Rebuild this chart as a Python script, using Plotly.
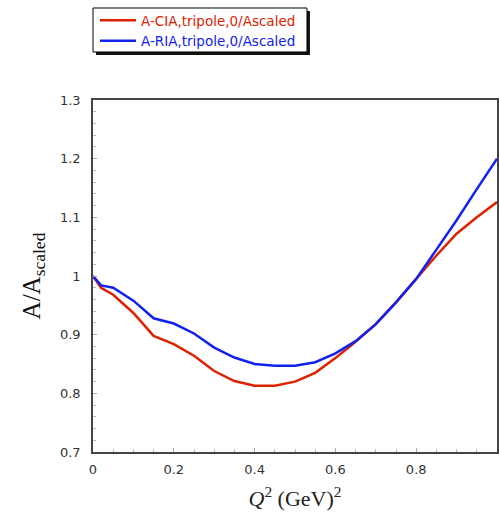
import plotly.graph_objects as go

q2 = [0.0, 0.02, 0.05, 0.1, 0.15, 0.2, 0.25, 0.3, 0.35, 0.4, 0.45, 0.5, 0.55,
      0.6, 0.65, 0.7, 0.75, 0.8, 0.85, 0.9, 0.95, 1.0]
cia = [1.0, 0.98, 0.968, 0.937, 0.898, 0.884, 0.864, 0.838, 0.821, 0.813, 0.813,
       0.82, 0.835, 0.86, 0.888, 0.918, 0.955, 0.995, 1.035, 1.072, 1.10, 1.126]
ria = [1.0, 0.984, 0.98, 0.958, 0.928, 0.919, 0.902, 0.878, 0.861, 0.850, 0.847,
       0.847, 0.853, 0.868, 0.889, 0.918, 0.955, 0.995, 1.045, 1.095, 1.148, 1.20]
names = ["A-CIA,tripole,0/Ascaled", "A-RIA,tripole,0/Ascaled"]
colors = ["#dd2200", "#1122ee"]
yticks = [0.7, 0.8, 0.9, 1.0, 1.1, 1.2, 1.3]
yticktext = ["0.7", "0.8", "0.9", "1", "1.1", "1.2", "1.3"]
xticks = [0, 0.2, 0.4, 0.6, 0.8, 1.0]
xticktext = ["0", "0.2", "0.4", "0.6", "0.8", "1"]

fig = go.Figure()
for ys, nm, c in zip([cia, ria], names, colors):
    fig.add_trace(go.Scatter(x=q2, y=ys, mode="lines",
                             name=f"<span style='color:{c}'>{nm}</span>",
                             line=dict(color=c, width=2.5)))

axis_common = dict(showgrid=False, zeroline=False, showline=True, mirror=True,
                   linecolor="#444", linewidth=1.5, ticks="inside", ticklen=4,
                   tickcolor="#aaa", automargin=False,
                   tickfont=dict(family="DejaVu Sans", size=13, color="#333"))

fig.update_layout(
    width=499, height=520,
    margin=dict(l=93, r=2, t=100, b=68, autoexpand=False),
    plot_bgcolor="white", paper_bgcolor="white",
    showlegend=True,
    legend=dict(x=0.005, y=1.27, xanchor="left", yanchor="top",
                bgcolor="rgba(0,0,0,0)", borderwidth=0,
                font=dict(family="DejaVu Sans", size=13.5),
                tracegroupgap=0, itemwidth=36),
    xaxis=dict(range=[0, 1], tickvals=xticks, ticktext=xticktext,
               ticklabelstandoff=5,
               minor=dict(ticks="inside", ticklen=3, dtick=0.05, tickcolor="#bbb"),
               title=dict(text="<i>Q</i><sup>2</sup> (GeV)<sup>2</sup>",
                          font=dict(family="Liberation Serif", size=22, color="#222"),
                          standoff=14),
               **axis_common),
    yaxis=dict(range=[0.7, 1.3], tickvals=yticks, ticktext=yticktext,
               ticklabelstandoff=8,
               minor=dict(ticks="inside", ticklen=3, dtick=0.02, tickcolor="#bbb"),
               title=dict(text="A/A<sub style='font-size:21px'>scaled</sub>",
                          font=dict(family="Liberation Serif", size=25, color="#111"),
                          standoff=12),
               **axis_common),
)
# legend shadow and box
fig.add_shape(type="rect", xref="paper", yref="paper", layer="below",
              x0=0.0074, x1=0.537, y0=1.1278, y1=1.2528,
              fillcolor="#111", line=dict(width=0))
fig.add_shape(type="rect", xref="paper", yref="paper", layer="below",
              x0=0.0, x1=0.5297, y0=1.1364, y1=1.2614,
              fillcolor="white", line=dict(color="black", width=1))
fig.write_html("out.html", config={"displayModeBar": False},
               post_script="document.body.style.margin='0';document.body.style.overflow='hidden';")
